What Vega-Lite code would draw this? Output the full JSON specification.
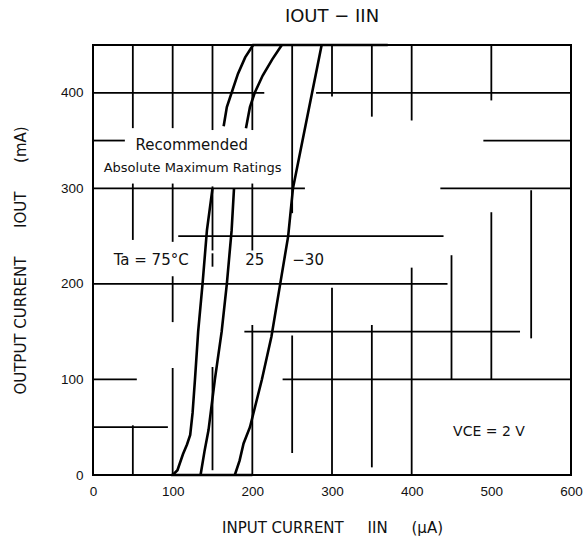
{
  "$schema": "https://vega.github.io/schema/vega-lite/v6.json",
  "width": 478,
  "height": 430,
  "autosize": {"type": "none"},
  "padding": {"left": 93, "top": 45, "right": 13, "bottom": 73},
  "background": "white",
  "config": {
    "view": {"stroke": "black", "strokeWidth": 2},
    "font": "Liberation Sans",
    "axis": {"grid": false, "domain": false, "ticks": false, "tickSize": 0, "labelFlush": false, "labelFont": "Liberation Sans", "labelFontSize": 13.5, "labelColor": "#111", "titleFont": "DejaVu Sans", "titleFontSize": 12.5, "titleFontWeight": "normal", "titleColor": "#111"}
  },
  "title": {"text": "IOUT − IIN", "fontSize": 18, "fontWeight": "normal", "font": "DejaVu Sans", "color": "#111", "offset": 14},
  "datasets": {
    "grid": [
      {"x": 0, "x2": 215, "y": 400, "y2": 400},
      {"x": 280, "x2": 600, "y": 400, "y2": 400},
      {"x": 0, "x2": 40, "y": 350, "y2": 350},
      {"x": 490, "x2": 600, "y": 350, "y2": 350},
      {"x": 0, "x2": 266, "y": 300, "y2": 300},
      {"x": 436, "x2": 600, "y": 300, "y2": 300},
      {"x": 107, "x2": 440, "y": 250, "y2": 250},
      {"x": 0, "x2": 445, "y": 200, "y2": 200},
      {"x": 190, "x2": 536, "y": 150, "y2": 150},
      {"x": 0, "x2": 55, "y": 100, "y2": 100},
      {"x": 238, "x2": 600, "y": 100, "y2": 100},
      {"x": 0, "x2": 94, "y": 50, "y2": 50},
      {"x": 50, "x2": 50, "y": 363, "y2": 450},
      {"x": 50, "x2": 50, "y": 246, "y2": 305},
      {"x": 50, "x2": 50, "y": 0, "y2": 52},
      {"x": 100, "x2": 100, "y": 363, "y2": 450},
      {"x": 100, "x2": 100, "y": 244, "y2": 305},
      {"x": 100, "x2": 100, "y": 160, "y2": 208},
      {"x": 100, "x2": 100, "y": 0, "y2": 112},
      {"x": 150, "x2": 150, "y": 361, "y2": 450},
      {"x": 150, "x2": 150, "y": 235, "y2": 302},
      {"x": 150, "x2": 150, "y": 218, "y2": 232},
      {"x": 150, "x2": 150, "y": 5, "y2": 113},
      {"x": 200, "x2": 200, "y": 361, "y2": 450},
      {"x": 200, "x2": 200, "y": 235, "y2": 305},
      {"x": 200, "x2": 200, "y": 0, "y2": 157},
      {"x": 250, "x2": 250, "y": 274, "y2": 450},
      {"x": 250, "x2": 250, "y": 23, "y2": 146},
      {"x": 300, "x2": 300, "y": 396, "y2": 450},
      {"x": 300, "x2": 300, "y": 0, "y2": 196},
      {"x": 350, "x2": 350, "y": 375, "y2": 450},
      {"x": 350, "x2": 350, "y": 8, "y2": 157},
      {"x": 400, "x2": 400, "y": 371, "y2": 450},
      {"x": 400, "x2": 400, "y": 0, "y2": 217},
      {"x": 450, "x2": 450, "y": 100, "y2": 230},
      {"x": 500, "x2": 500, "y": 392, "y2": 450},
      {"x": 500, "x2": 500, "y": 100, "y2": 275},
      {"x": 550, "x2": 550, "y": 143, "y2": 298}
    ],
    "curves": [
      {"s": "A1", "x": 100, "y": 0},
      {"s": "A1", "x": 106, "y": 5},
      {"s": "A1", "x": 113, "y": 22},
      {"s": "A1", "x": 118, "y": 32},
      {"s": "A1", "x": 122, "y": 42},
      {"s": "A1", "x": 125, "y": 65},
      {"s": "A1", "x": 128, "y": 100},
      {"s": "A1", "x": 132, "y": 150},
      {"s": "A1", "x": 137.5, "y": 200},
      {"s": "A1", "x": 143, "y": 256},
      {"s": "A1", "x": 150, "y": 300},
      {"s": "A2", "x": 164, "y": 365},
      {"s": "A2", "x": 168, "y": 385},
      {"s": "A2", "x": 174, "y": 400},
      {"s": "A2", "x": 182, "y": 420},
      {"s": "A2", "x": 191, "y": 437},
      {"s": "A2", "x": 201, "y": 450},
      {"s": "B1", "x": 135, "y": 0},
      {"s": "B1", "x": 140, "y": 25},
      {"s": "B1", "x": 145, "y": 47},
      {"s": "B1", "x": 153, "y": 100},
      {"s": "B1", "x": 161.5, "y": 150},
      {"s": "B1", "x": 168, "y": 200},
      {"s": "B1", "x": 174, "y": 256},
      {"s": "B1", "x": 177, "y": 300},
      {"s": "B2", "x": 192, "y": 363},
      {"s": "B2", "x": 197, "y": 385},
      {"s": "B2", "x": 203, "y": 400},
      {"s": "B2", "x": 213, "y": 418},
      {"s": "B2", "x": 225, "y": 435},
      {"s": "B2", "x": 237, "y": 450},
      {"s": "C", "x": 178, "y": 0},
      {"s": "C", "x": 184, "y": 15},
      {"s": "C", "x": 189, "y": 33},
      {"s": "C", "x": 197, "y": 50},
      {"s": "C", "x": 212, "y": 100},
      {"s": "C", "x": 224, "y": 145},
      {"s": "C", "x": 235, "y": 200},
      {"s": "C", "x": 245, "y": 250},
      {"s": "C", "x": 251, "y": 300},
      {"s": "C", "x": 263, "y": 350},
      {"s": "C", "x": 275, "y": 400},
      {"s": "C", "x": 281, "y": 425},
      {"s": "C", "x": 287, "y": 450},
      {"s": "base", "x": 98, "y": 0},
      {"s": "base", "x": 200, "y": 0},
      {"s": "top", "x": 200, "y": 450},
      {"s": "top", "x": 370, "y": 450}
    ],
    "notes": [
      {"t": "Recommended", "x": 124, "y": 345, "size": 15},
      {"t": "Absolute Maximum Ratings", "x": 125, "y": 321, "size": 13},
      {"t": "Ta = 75°C", "x": 73, "y": 225, "size": 15},
      {"t": "25", "x": 203, "y": 225, "size": 15},
      {"t": "−30", "x": 270, "y": 225, "size": 15},
      {"t": "VCE = 2 V", "x": 497, "y": 45, "size": 14}
    ]
  },
  "layer": [
    {
      "data": {"name": "grid"},
      "mark": {"type": "rule", "color": "black", "strokeWidth": 1.8},
      "encoding": {
        "x": {"field": "x", "type": "quantitative", "scale": {"domain": [0, 600], "nice": false, "zero": false}, "axis": {"values": [0, 100, 200, 300, 400, 500, 600], "labelPadding": 9, "title": "INPUT CURRENT\u00a0\u00a0\u00a0\u00a0\u00a0IIN\u00a0\u00a0\u00a0\u00a0\u00a0(µA)", "titleX": 239, "titleY": 52, "titleAlign": "center", "titleBaseline": "middle", "titleFontSize": 15}},
        "x2": {"field": "x2"},
        "y": {"field": "y", "type": "quantitative", "scale": {"domain": [0, 450], "nice": false, "zero": false}, "axis": {"values": [0, 100, 200, 300, 400], "labelPadding": 10, "title": "OUTPUT CURRENT\u00a0\u00a0\u00a0\u00a0\u00a0\u00a0IOUT\u00a0\u00a0\u00a0\u00a0\u00a0\u00a0(mA)", "titleX": -73, "titleY": 215, "titleAngle": -90, "titleAlign": "center", "titleBaseline": "middle", "titleFontSize": 15}},
        "y2": {"field": "y2"}
      }
    },
    {
      "data": {"name": "curves"},
      "mark": {"type": "line", "color": "black", "strokeWidth": 2.6},
      "encoding": {
        "x": {"field": "x", "type": "quantitative"},
        "y": {"field": "y", "type": "quantitative"},
        "detail": {"field": "s"}
      }
    },
    {
      "data": {"name": "notes"},
      "mark": {"type": "text", "color": "#111", "font": "DejaVu Sans", "align": "center", "baseline": "middle"},
      "encoding": {
        "x": {"field": "x", "type": "quantitative"},
        "y": {"field": "y", "type": "quantitative"},
        "text": {"field": "t"},
        "size": {"field": "size", "type": "quantitative", "scale": null}
      }
    }
  ]
}
